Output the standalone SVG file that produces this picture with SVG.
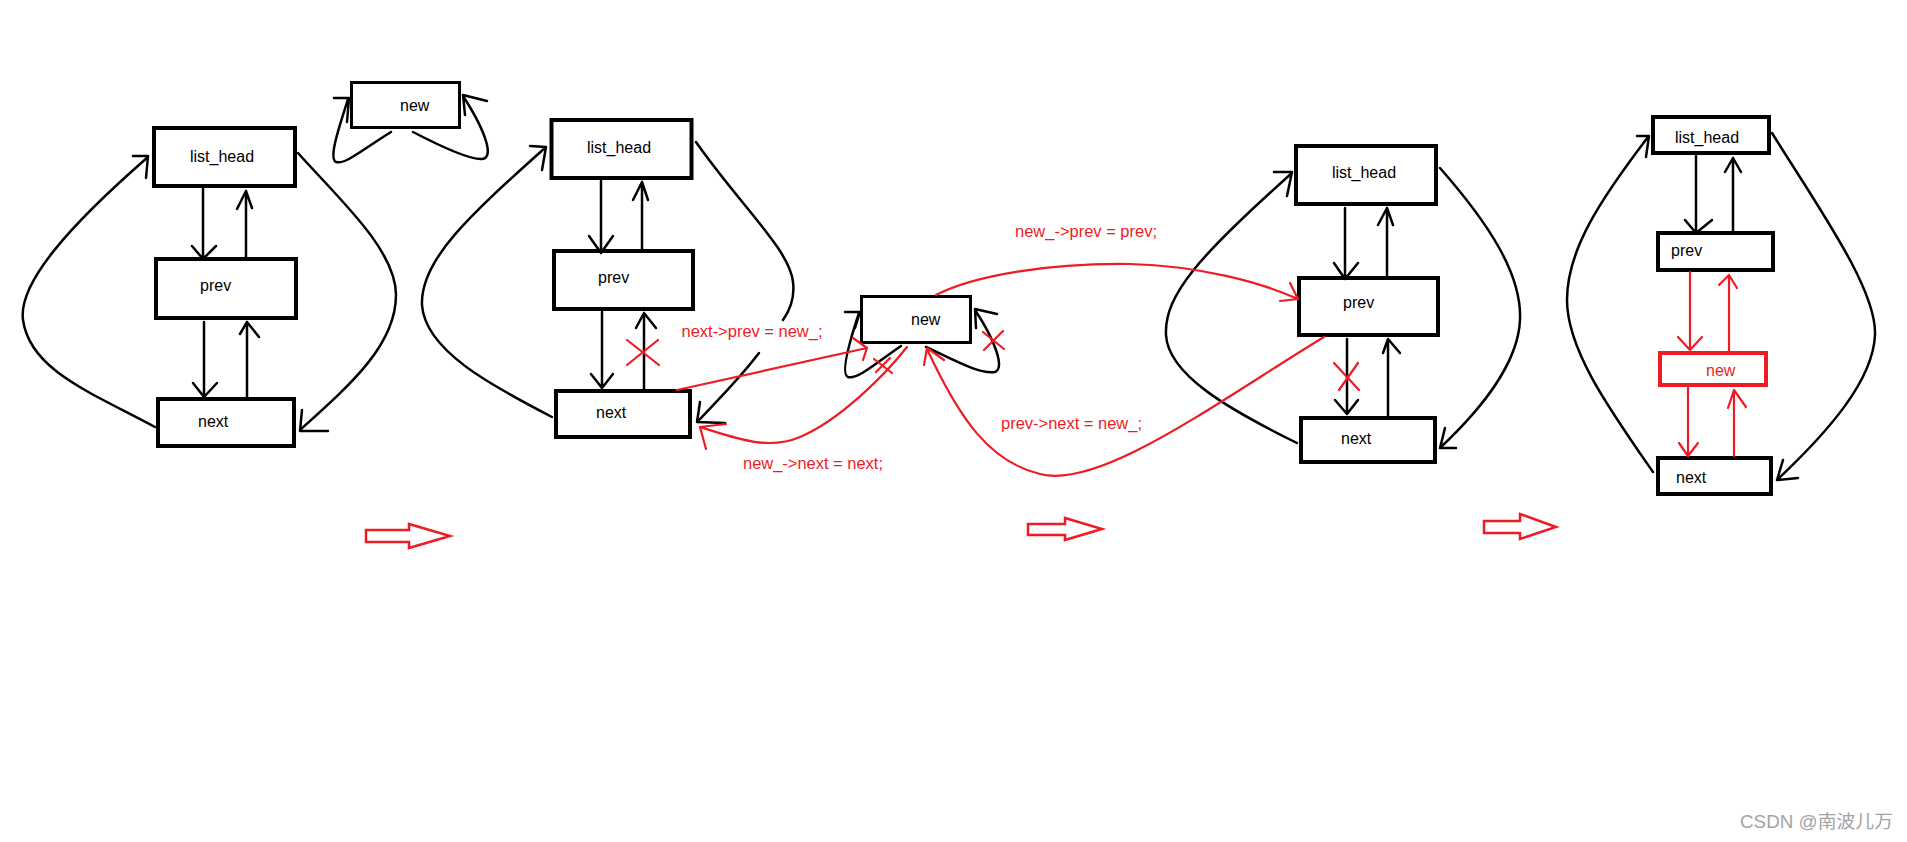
<svg xmlns="http://www.w3.org/2000/svg" width="1907" height="842" viewBox="0 0 1907 842">
<style>
.box{fill:#fff;stroke:#000;stroke-width:4}
.thin{fill:#fff;stroke:#000;stroke-width:3}
.rbox{fill:#fff;stroke:#ED1C24;stroke-width:4}
.lbl{font-family:"Liberation Sans",Arial,sans-serif;font-size:16px;fill:#000}
.rlbl{font-family:"Liberation Sans",Arial,sans-serif;font-size:16px;fill:#ED1C24}
.k{fill:none;stroke:#000;stroke-width:2.5;stroke-linecap:round;stroke-linejoin:round}
.r{fill:none;stroke:#ED1C24;stroke-width:2.2;stroke-linecap:round;stroke-linejoin:round}
.big{fill:#fff;stroke:#ED1C24;stroke-width:2.5}
.wm{font-family:"Liberation Sans","Noto Sans CJK SC",sans-serif;font-size:18px;fill:#a3a3a3}
</style>
<rect width="1907" height="842" fill="#fff"/>

<!-- Panel 1 -->
<g id="p1-list_head"><rect class="box" x="154" y="128" width="141" height="58"/><text class="lbl" x="190" y="162">list_head</text></g>
<g id="p1-prev"><rect class="box" x="156" y="259" width="140" height="59"/><text class="lbl" x="200" y="291">prev</text></g>
<g id="p1-next"><rect class="box" x="158" y="399" width="136" height="47"/><text class="lbl" x="198" y="427">next</text></g>
<g id="p1-new"><rect class="thin" x="351.5" y="82.5" width="108" height="45"/><text class="lbl" x="400" y="111">new</text></g>

<!-- Panel 2 -->
<g id="p2-list_head"><rect class="box" x="551.5" y="120" width="140" height="58"/><text class="lbl" x="587" y="153">list_head</text></g>
<g id="p2-prev"><rect class="box" x="554" y="251" width="139" height="58"/><text class="lbl" x="598" y="283">prev</text></g>
<g id="p2-next"><rect class="box" x="556" y="391" width="134" height="46"/><text class="lbl" x="596" y="418">next</text></g>
<g id="p2-new"><rect class="thin" x="861.5" y="296.5" width="109" height="46"/><text class="lbl" x="911" y="325">new</text></g>

<!-- Panel 3 -->
<g id="p3-list_head"><rect class="box" x="1296" y="146" width="140" height="58"/><text class="lbl" x="1332" y="178">list_head</text></g>
<g id="p3-prev"><rect class="box" x="1299" y="278" width="139" height="57"/><text class="lbl" x="1343" y="308">prev</text></g>
<g id="p3-next"><rect class="box" x="1301" y="418" width="134" height="44"/><text class="lbl" x="1341" y="444">next</text></g>

<!-- Panel 4 -->
<g id="p4-list_head"><rect class="box" x="1653" y="117" width="116" height="36"/><text class="lbl" x="1675" y="143">list_head</text></g>
<g id="p4-prev"><rect class="box" x="1658" y="233" width="115" height="37"/><text class="lbl" x="1671" y="256">prev</text></g>
<g id="p4-new"><rect class="rbox" x="1660" y="353" width="106" height="32"/><text class="rlbl" x="1706" y="376">new</text></g>
<g id="p4-next"><rect class="box" x="1658" y="458" width="113" height="36"/><text class="lbl" x="1676" y="483">next</text></g>

<g id="connectors">
<!-- panel 1 -->
<path class="k" d="M203,189 L203,259 M192,246 L203,259 L216,246"/>
<path class="k" d="M246,257 L246,191 M237,209 L246,191 L252,208"/>
<path class="k" d="M204,322 L204,397 M193,383 L204,397 L217,383"/>
<path class="k" d="M247,397 L247,322 M240,334 L247,322 L259,337"/>
<path class="k" d="M155,427 C 90,392 30,370 23,320 C 18,283 70,225 148,157 M133,156 L148,156 L146,178"/>
<path class="k" d="M298,153 C 340,200 396,250 396,295 C 396,345 350,385 300,430 M302,410 L300,431 L328,431"/>
<path class="k" d="M391,132 C 362,150 345,165 336,162 C 328,158 340,125 348,99 M334,98 L349,98 L347,122"/>
<path class="k" d="M413,132 C 440,146 470,160 482,159 C 495,158 485,130 463,96 M487,101 L463,95 L465,115"/>

<!-- panel 2 -->
<path class="k" d="M601,181 L601,252 M589,236 L601,253 L613,236"/>
<path class="k" d="M642,249 L642,182 M633,200 L642,182 L648,200"/>
<path class="k" d="M602,312 L602,388 M591,374 L602,388 L613,374"/>
<path class="k" d="M644,389 L644,313 M636,328 L644,313 L656,328"/>
<path class="k" d="M552,417 C 490,385 425,350 422,305 C 420,260 470,215 546,147 M530,146 L546,147 L542,170"/>
<path class="k" d="M696,142 C 740,205 790,250 793,282 C 795,298 790,310 783,320"/>
<path class="k" d="M759,353 C 740,378 720,398 698,421 M700,402 L697,422 L725,423"/>
<path class="k" d="M901,346 C 880,360 858,380 848,377 C 840,374 850,340 859,313 M845,312 L860,312 L855,328"/>
<path class="k" d="M926,347 C 950,358 980,375 995,372 C 1005,368 995,340 975,310 M997,314 L975,309 L976,328"/>
<path class="r" d="M627,340 L659,365 M658,340 L627,365"/>
<path class="r" d="M983,332 L1004,349 M1003,331 L984,350"/>
<path class="r" d="M874,359 L892,373 M890,358 L876,372"/>
<path class="r" d="M677,390 L867,348 M853,338 L867,348 L863,360"/>
<path class="r" d="M907,347 C 885,375 840,420 800,437 C 770,450 740,440 700,427 M726,424 L700,427 L706,449"/>

<!-- panel 3 -->
<path class="k" d="M1345,208 L1345,278 M1334,263 L1345,279 L1358,263"/>
<path class="k" d="M1387,276 L1387,208 M1378,225 L1387,208 L1393,225"/>
<path class="k" d="M1347,339 L1347,414 M1335,400 L1347,414 L1358,400"/>
<path class="k" d="M1388,416 L1388,339 M1383,353 L1388,339 L1400,353"/>
<path class="r" d="M1334,363 L1359,390 M1358,363 L1339,390"/>
<path class="k" d="M1297,443 C 1230,410 1168,375 1166,335 C 1164,295 1200,255 1292,173 M1274,172 L1292,172 L1287,196"/>
<path class="k" d="M1440,168 C 1490,225 1522,275 1520,320 C 1518,365 1480,410 1441,447 M1445,428 L1440,448 L1456,448"/>
<path class="r" d="M936,295 C 975,275 1050,263 1130,264 C 1200,266 1260,282 1298,299 M1290,283 L1298,299 L1280,301"/>
<path class="r" d="M1324,337 C 1220,400 1100,490 1040,474 C 990,462 960,420 927,349 M924,365 L927,348 L944,360"/>

<!-- panel 4 -->
<path class="k" d="M1696,155 L1696,233 M1685,220 L1696,233 L1712,220"/>
<path class="k" d="M1733,231 L1733,158 M1725,172 L1733,158 L1741,172"/>
<path class="r" d="M1690,272 L1690,350 M1678,337 L1690,350 L1702,337"/>
<path class="r" d="M1729,351 L1729,275 M1719,285 L1729,275 L1737,288"/>
<path class="r" d="M1688,387 L1688,456 M1679,443 L1688,456 L1698,443"/>
<path class="r" d="M1734,456 L1734,390 M1728,408 L1734,390 L1746,407"/>
<path class="k" d="M1653,472 C 1610,410 1567,350 1567,300 C 1567,250 1600,200 1648,137 M1637,136 L1649,136 L1646,157"/>
<path class="k" d="M1772,133 C 1820,210 1877,290 1875,335 C 1873,380 1830,430 1777,480 M1783,460 L1777,480 L1798,478"/>

<!-- hollow step arrows -->
<polygon class="big" points="366,530 409,530 409,524 450,536 409,548 409,542 366,542"/>
<polygon class="big" points="1028,524 1065,524 1065,518 1102,529 1065,540 1065,535 1028,535"/>
<polygon class="big" points="1484,521 1520,521 1520,514 1556,527 1520,539 1520,533 1484,533"/>
</g>

<g id="labels">
<text class="rlbl" x="681.5" y="337" textLength="141" lengthAdjust="spacingAndGlyphs">next-&gt;prev = new_;</text>
<text class="rlbl" x="743" y="469" textLength="140" lengthAdjust="spacingAndGlyphs">new_-&gt;next = next;</text>
<text class="rlbl" x="1015" y="237" textLength="142" lengthAdjust="spacingAndGlyphs">new_-&gt;prev = prev;</text>
<text class="rlbl" x="1001" y="429" textLength="141" lengthAdjust="spacingAndGlyphs">prev-&gt;next = new_;</text>
</g>
<text class="wm" x="1740" y="828" textLength="153" lengthAdjust="spacingAndGlyphs">CSDN @南波儿万</text>
</svg>
